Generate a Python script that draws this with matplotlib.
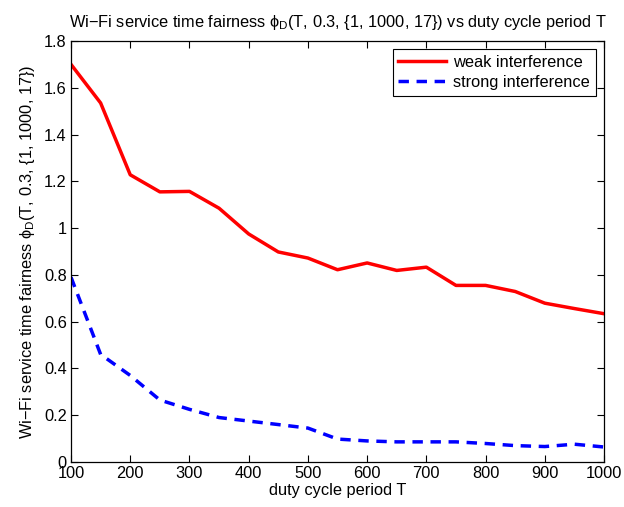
import matplotlib
matplotlib.use("Agg")
import matplotlib.pyplot as plt

plt.rcParams['font.family'] = ['Liberation Sans', 'DejaVu Sans']
plt.rcParams['mathtext.fontset'] = 'custom'
plt.rcParams['mathtext.rm'] = 'Liberation Sans'
plt.rcParams['mathtext.it'] = 'Liberation Sans'

T = [100, 150, 200, 250, 300, 350, 400, 450, 500, 550, 600, 650, 700, 750, 800, 850, 900, 950, 1000]
weak = [1.70, 1.535, 1.228, 1.155, 1.157, 1.085, 0.975, 0.898, 0.872, 0.822, 0.851, 0.819, 0.833,
        0.755, 0.755, 0.729, 0.679, 0.656, 0.634]
strong = [0.79, 0.46, 0.37, 0.265, 0.225, 0.19, 0.175, 0.16, 0.145, 0.098, 0.09, 0.086, 0.086,
          0.086, 0.079, 0.07, 0.066, 0.076, 0.064]

FS = 11.8

fig = plt.figure(figsize=(6.24, 5.07), dpi=100)
ax = fig.add_axes([0.1138, 0.0888, 0.8542, 0.8303])
ax.plot(T, weak, color='#ff0000', lw=2.5, label='weak interference')
ax.plot(T, strong, color='#0000ff', lw=2.5, ls=(0, (3, 2.2)), label='strong interference')

ax.set_xlim(100, 1000)
ax.set_ylim(0, 1.8)
ax.set_xticks(range(100, 1001, 100))
ax.set_yticks([0, 0.2, 0.4, 0.6, 0.8, 1, 1.2, 1.4, 1.6, 1.8])
ax.set_yticklabels(['0', '0.2', '0.4', '0.6', '0.8', '1', '1.2', '1.4', '1.6', '1.8'])
ax.tick_params(direction='in', top=True, right=True, labelsize=FS, length=5, width=0.8, pad=3)
for s in ax.spines.values():
    s.set_linewidth(0.9)

ax.set_xlabel('duty cycle period T', fontsize=FS, labelpad=1)
ax.set_ylabel('Wi\u2212Fi service time fairness $\\phi_D$(T, 0.3, {1, 1000, 17})', fontsize=FS, labelpad=5)
ax.set_title('Wi\u2212Fi service time fairness $\\phi_D$(T, 0.3, {1, 1000, 17}) vs duty cycle period T',
             fontsize=FS, pad=10)

leg = ax.legend(loc='upper right', fontsize=FS, fancybox=False, framealpha=1,
                edgecolor='black', handlelength=2.9, handletextpad=0.45, borderpad=0.35,
                labelspacing=0.3, borderaxespad=0.5)
leg.get_frame().set_linewidth(0.8)

fig.savefig('out.png', dpi=100)
